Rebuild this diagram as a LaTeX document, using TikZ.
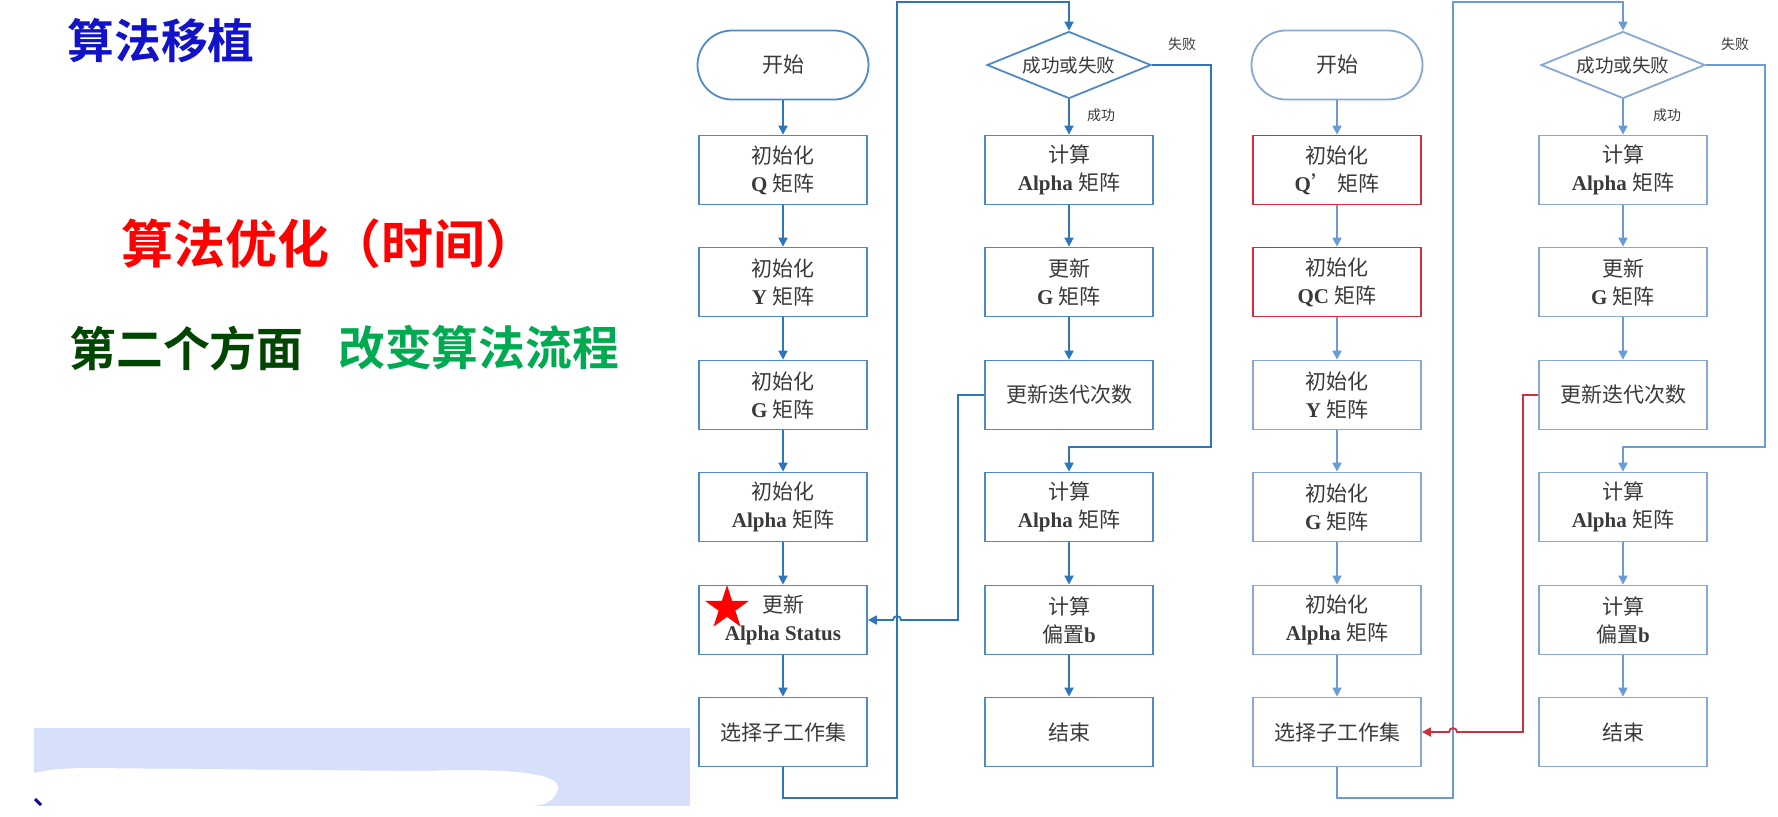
\documentclass[tikz,border=0pt]{standalone}
\usepackage{fontspec}
\setmainfont{Liberation Serif}
\newfontfamily\cjk{Noto Sans CJK SC}
\newfontfamily\cjkbold{Noto Sans CJK SC Bold}
\usetikzlibrary{arrows.meta,positioning,shapes.geometric,calc}
\definecolor{LeftLine}{RGB}{46,117,190}
\definecolor{LeftBox}{RGB}{80,138,198}
\definecolor{RightLine}{RGB}{105,155,214}
\definecolor{RightBox}{RGB}{135,168,212}
\definecolor{MarkRed}{RGB}{204,48,58}
\definecolor{BoxText}{RGB}{58,58,58}
\definecolor{TitleBlue}{RGB}{18,18,200}
\definecolor{DeepGreen}{RGB}{0,70,0}
\definecolor{LeafGreen}{RGB}{0,170,80}
\definecolor{PatchBlue}{RGB}{214,224,250}
\newcommand{\zh}[1]{{\cjk #1}}

\begin{document}
\begin{tikzpicture}[x=0.5pt,y=-0.5pt,
    box/.style={draw=LeftBox, line width=0.9pt, fill=white, minimum width=84pt, minimum height=34.5pt,
      inner sep=0pt, align=center, text=BoxText, font=\fontsize{10.5pt}{14pt}\selectfont},
    termbox/.style={box, rounded corners=17.25pt, minimum width=85.5pt},
    decide/.style={box, diamond, aspect=2.5, minimum width=82pt, minimum height=33.5pt,
      font=\fontsize{9.3pt}{11pt}\selectfont},
    flow/.style={draw=LeftLine, line width=0.9pt, -{Triangle[length=4.5pt,width=4.5pt]}},
    tag/.style={text=BoxText, font=\fontsize{7pt}{8pt}\selectfont},
    soft/.style={draw=RightBox},
    softflow/.style={flow, draw=RightLine},
    hot/.style={draw=MarkRed},
    headline/.style={inner sep=0pt, font=\cjkbold\fontsize{23.4pt}{24pt}\selectfont}]
  \useasboundingbox (0,0) rectangle (1778,816);

  % headings on the left
  \node[headline, text=TitleBlue] (title) at (161,41) {算法移植};
  \node[headline, text=red, font=\cjkbold\fontsize{26pt}{26pt}\selectfont] (goal) at (329,244) {算法优化（时间）};
  \node[headline, text=DeepGreen, anchor=west] (aspect) at (69,348) {第二个方面};
  \node[headline, text=LeafGreen, right=17pt of aspect] (change) {改变算法流程};

  % pasted patch
  \fill[PatchBlue] (34,728) rectangle (690,806);
  \fill[white] (34,773) .. controls (50,769) and (70,768) .. (90,768) -- (420,771)
    .. controls (500,768) and (560,772) .. (558,788) .. controls (556,800) and (545,806) .. (530,806)
    -- (34,806) -- cycle;
  \draw[line width=1.5pt, TitleBlue!70!black] (35,799) -- (41,805);

  % ---- original flow ----
  \node[termbox] (L0) at (783,65) {\zh{开始}};
  \foreach \j/\y/\txt in {1/170/\zh{初始化}\\\textbf{Q} \zh{矩阵},
                          2/282/\zh{初始化}\\\textbf{Y} \zh{矩阵},
                          3/395/\zh{初始化}\\\textbf{G} \zh{矩阵},
                          4/507/\zh{初始化}\\\textbf{Alpha} \zh{矩阵},
                          5/620/\zh{更新}\\\textbf{Alpha Status},
                          6/732/\zh{选择子工作集}} {
    \node[box] (L\j) at (783,\y) {\txt};
  }
  \node[decide] (Lq) at (1069,65) {\zh{成功或失败}};
  \foreach \j/\y/\txt in {1/170/\zh{计算}\\\textbf{Alpha} \zh{矩阵},
                          2/282/\zh{更新}\\\textbf{G} \zh{矩阵},
                          3/395/\zh{更新迭代次数},
                          4/507/\zh{计算}\\\textbf{Alpha} \zh{矩阵},
                          5/620/\zh{计算}\\\zh{偏置}\textbf{b},
                          6/732/\zh{结束}} {
    \node[box] (Lc\j) at (1069,\y) {\txt};
  }
  \foreach \a/\b in {L0/L1,L1/L2,L2/L3,L3/L4,L4/L5,L5/L6,Lq/Lc1,Lc1/Lc2,Lc2/Lc3,Lc4/Lc5,Lc5/Lc6}
    \draw[flow] (\a.south) -- (\b.north);
  \node[tag] (Lno) at (1182,44) {\zh{失败}};
  \node[tag] (Lyes) at (1101,115) {\zh{成功}};

  \coordinate (Lbot) at (897,798);
  \coordinate (Ltop) at (897,2);
  \coordinate (Lfail) at (1211,447);
  \coordinate (Lfb) at (958,620);
  \coordinate (Lhop) at (901,620);
  \draw[flow] (L6.south) |- (Lbot) -- (Ltop) -| (Lq.north);
  \draw[flow] (Lq.east) -| (Lfail) -| (Lc4.north);
  \draw[flow] (Lc3.west) -| (Lfb) -- (Lhop) arc[start angle=0,end angle=180,radius=2pt] -- (L5.east);
  \node[star, star points=5, star point ratio=2.618, fill=red, minimum size=23pt, inner sep=0pt] (star) at (727,608) {};

  % ---- changed flow ----
  \node[termbox, soft] (R0) at (1337,65) {\zh{开始}};
  \foreach \j/\y/\txt/\edge in {1/170/\zh{初始化}\\\textbf{Q}\zh{’} \zh{矩阵}/hot,
                                2/282/\zh{初始化}\\\textbf{QC} \zh{矩阵}/hot,
                                3/395/\zh{初始化}\\\textbf{Y} \zh{矩阵}/soft,
                                4/507/\zh{初始化}\\\textbf{G} \zh{矩阵}/soft,
                                5/620/\zh{初始化}\\\textbf{Alpha} \zh{矩阵}/soft,
                                6/732/\zh{选择子工作集}/soft} {
    \node[box, \edge] (R\j) at (1337,\y) {\txt};
  }
  \node[decide, soft] (Rq) at (1623,65) {\zh{成功或失败}};
  \foreach \j/\y/\txt in {1/170/\zh{计算}\\\textbf{Alpha} \zh{矩阵},
                          2/282/\zh{更新}\\\textbf{G} \zh{矩阵},
                          3/395/\zh{更新迭代次数},
                          4/507/\zh{计算}\\\textbf{Alpha} \zh{矩阵},
                          5/620/\zh{计算}\\\zh{偏置}\textbf{b},
                          6/732/\zh{结束}} {
    \node[box, soft] (Rc\j) at (1623,\y) {\txt};
  }
  \foreach \a/\b in {R0/R1,R1/R2,R2/R3,R3/R4,R4/R5,R5/R6,Rq/Rc1,Rc1/Rc2,Rc2/Rc3,Rc4/Rc5,Rc5/Rc6}
    \draw[softflow] (\a.south) -- (\b.north);
  \node[tag] (Rno) at (1735,44) {\zh{失败}};
  \node[tag] (Ryes) at (1667,115) {\zh{成功}};

  \coordinate (Rbot) at (1453,798);
  \coordinate (Rtop) at (1453,2);
  \coordinate (Rfail) at (1765,447);
  \coordinate (Rfb) at (1523,732);
  \coordinate (Rhop) at (1457,732);
  \draw[softflow] (R6.south) |- (Rbot) -- (Rtop) -| (Rq.north);
  \draw[softflow] (Rq.east) -| (Rfail) -| (Rc4.north);
  \draw[flow, draw=MarkRed] (Rc3.west) -| (Rfb) -- (Rhop) arc[start angle=0,end angle=180,radius=2pt] -- (R6.east);
\end{tikzpicture}
\end{document}
